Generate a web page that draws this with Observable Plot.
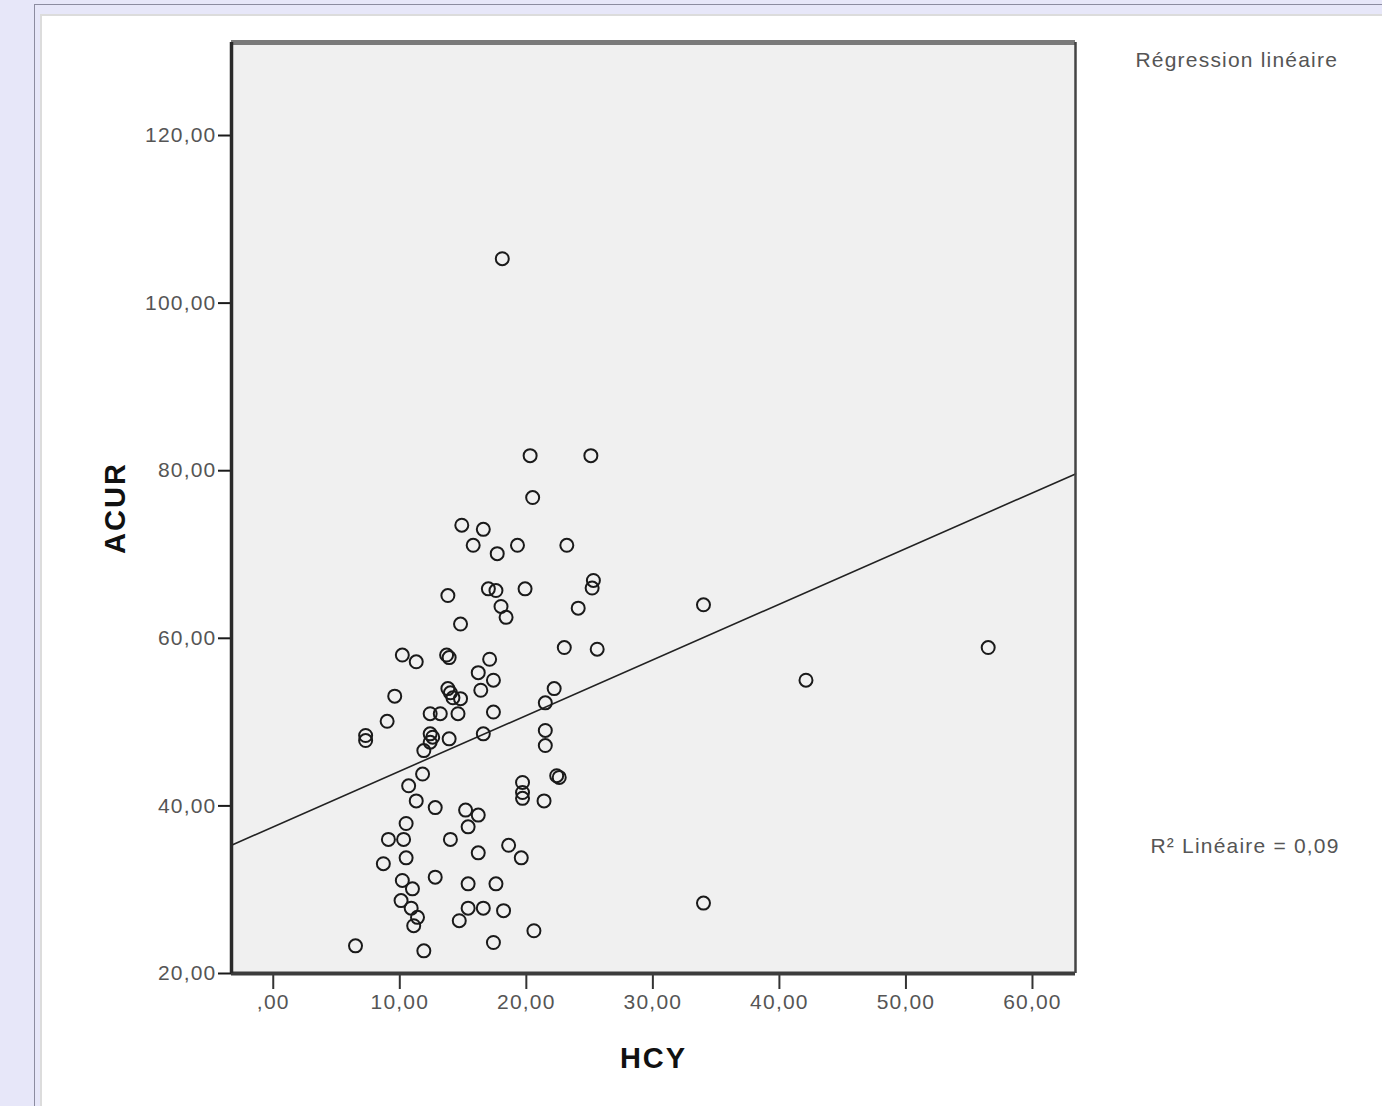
<!DOCTYPE html>
<html>
<head>
<meta charset="utf-8">
<script src="https://cdn.jsdelivr.net/npm/d3@7"></script>
<script src="https://cdn.jsdelivr.net/npm/@observablehq/plot@0.6"></script>
<style>
  html, body { margin: 0; padding: 0; width: 1382px; height: 1106px; overflow: hidden; background: #e7e7f9; font-family: "Liberation Sans", Arial, sans-serif; }
  #outer { position: absolute; left: 34px; top: 4px; width: 1360px; height: 1120px; border: 1px solid #8c8ca0; background: #e7e7f9; }
  #panel { position: absolute; left: 40px; top: 14px; width: 1360px; height: 1110px; background: #fff; border-left: 2px solid #dcdcdc; border-top: 2px solid #dcdcdc; }
  #chart { position: absolute; left: 0; top: 0; }
</style>
</head>
<body>
<div id="outer"></div>
<div id="panel"></div>
<div id="chart"></div>
<script>
// HCY (x) values
const hcy = [
  18.1, 20.3, 25.1, 20.5, 14.9, 16.6, 15.8, 19.3, 17.7, 23.2,
  13.8, 17.0, 17.6, 19.9, 25.3, 25.2, 24.1, 18.0, 18.4, 14.8,
  34.0, 10.2, 11.3, 13.7, 13.9, 17.1, 23.0, 25.6, 56.5, 16.2,
  17.4, 9.6, 13.8, 14.0, 14.2, 14.8, 16.4, 22.2, 21.5, 9.0,
  12.4, 13.2, 14.6, 17.4, 42.1, 7.3, 12.4, 12.6, 13.9, 16.6,
  21.5, 11.9, 12.4, 21.5, 11.8, 10.7, 22.6, 22.4, 19.7, 19.7,
  19.7, 11.3, 21.4, 12.8, 15.2, 16.2, 10.5, 15.4, 9.1, 10.3,
  14.0, 18.6, 19.6, 16.2, 10.5, 8.7, 10.2, 11.0, 12.8, 15.4,
  17.6, 10.1, 10.9, 11.4, 11.1, 15.4, 16.6, 14.7, 18.2, 34.0,
  20.6, 6.5, 11.9, 17.4, 7.3
];
// ACUR (y) values
const acur = [
  105.3, 81.8, 81.8, 76.8, 73.5, 73.0, 71.1, 71.1, 70.1, 71.1,
  65.1, 65.9, 65.7, 65.9, 66.9, 66.0, 63.6, 63.8, 62.5, 61.7,
  64.0, 58.0, 57.2, 58.0, 57.7, 57.5, 58.9, 58.7, 58.9, 55.9,
  55.0, 53.1, 54.0, 53.5, 52.9, 52.8, 53.8, 54.0, 52.3, 50.1,
  51.0, 51.0, 51.0, 51.2, 55.0, 47.8, 48.6, 48.2, 48.0, 48.6,
  49.0, 46.6, 47.6, 47.2, 43.8, 42.4, 43.4, 43.6, 42.8, 41.6,
  40.9, 40.6, 40.6, 39.8, 39.5, 38.9, 37.9, 37.5, 36.0, 36.0,
  36.0, 35.3, 33.8, 34.4, 33.8, 33.1, 31.1, 30.1, 31.5, 30.7,
  30.7, 28.7, 27.8, 26.7, 25.7, 27.8, 27.8, 26.3, 27.5, 28.4,
  25.1, 23.3, 22.7, 23.7, 48.4
];
const xTicks = [0, 10, 20, 30, 40, 50, 60];
const yTicks = [20, 40, 60, 80, 100, 120];
const xDomain = [-3.3, 63.4];
const yDomain = [20, 131.1];
const xLabel = "HCY";
const yLabel = "ACUR";
const legendTitle = "Régression linéaire";
const r2Label = "R² Linéaire = 0,09";

const points = hcy.map((x, i) => ({hcy: x, acur: acur[i]}));

// least-squares fit computed from the data
const mx = d3.mean(hcy), my = d3.mean(acur);
const slope = d3.sum(points, d => (d.hcy - mx) * (d.acur - my)) / d3.sum(points, d => (d.hcy - mx) ** 2);
const intercept = my - slope * mx;
const fit = xDomain.map(x => ({hcy: x, acur: intercept + slope * x}));

const fmt = d => d === 0 ? ",00" : d3.format(".2f")(d).replace(".", ",");
const font = "Liberation Sans, Arial, sans-serif";

const chart = Plot.plot({
  width: 1382,
  height: 1106,
  marginLeft: 231,
  marginRight: 307,
  marginTop: 42,
  marginBottom: 133,
  style: {background: "transparent", fontFamily: font, letterSpacing: "1.2px"},
  x: {domain: xDomain, axis: null},
  y: {domain: yDomain, axis: null},
  marks: [
    Plot.frame({fill: "#f0f0f0", stroke: null}),
    Plot.axisY({ticks: yTicks, tickFormat: fmt, tickSize: 13, tickPadding: 2, strokeWidth: 2, stroke: "#1a1a1a", fill: "#555", fontSize: 21, label: null}),
    Plot.axisX({ticks: xTicks, tickFormat: fmt, tickSize: 16, tickPadding: 5, strokeWidth: 2, stroke: "#333", fill: "#555", fontSize: 21, label: null}),
    Plot.line(fit, {x: "hcy", y: "acur", stroke: "#222", strokeWidth: 1.6}),
    Plot.dot(points, {x: "hcy", y: "acur", r: 6.5, stroke: "#1a1a1a", strokeWidth: 2, fill: "none"}),
    Plot.ruleY([yDomain[1]], {stroke: "#7a7a7a", strokeWidth: 5}),
    Plot.ruleY([yDomain[0]], {stroke: "#3c3c3c", strokeWidth: 4}),
    Plot.ruleX([xDomain[0]], {stroke: "#2a2a2a", strokeWidth: 3.5}),
    Plot.ruleX([xDomain[1]], {stroke: "#444", strokeWidth: 2.5}),
    Plot.text([xLabel], {text: d => d, frameAnchor: "bottom", dy: 85, lineAnchor: "middle", textAnchor: "middle", fontSize: 29, fontWeight: "bold", fill: "#111"}),
    Plot.text([yLabel], {text: d => d, frameAnchor: "left", dx: -116, rotate: -90, lineAnchor: "middle", textAnchor: "middle", fontSize: 29, fontWeight: "bold", fill: "#111"}),
    Plot.text([legendTitle], {text: d => d, frameAnchor: "top-right", dx: 60, dy: 18, lineAnchor: "middle", textAnchor: "start", fontSize: 21, fill: "#555"}),
    Plot.text([r2Label], {text: d => d, frameAnchor: "bottom-right", dx: 75, dy: -127, lineAnchor: "middle", textAnchor: "start", fontSize: 21, fill: "#555"})
  ]
});
d3.select(chart).selectAll("text").filter(function() { return this.textContent === xLabel || this.textContent === yLabel; }).style("letter-spacing", "2px");
document.getElementById("chart").appendChild(chart);
</script>
</body>
</html>
